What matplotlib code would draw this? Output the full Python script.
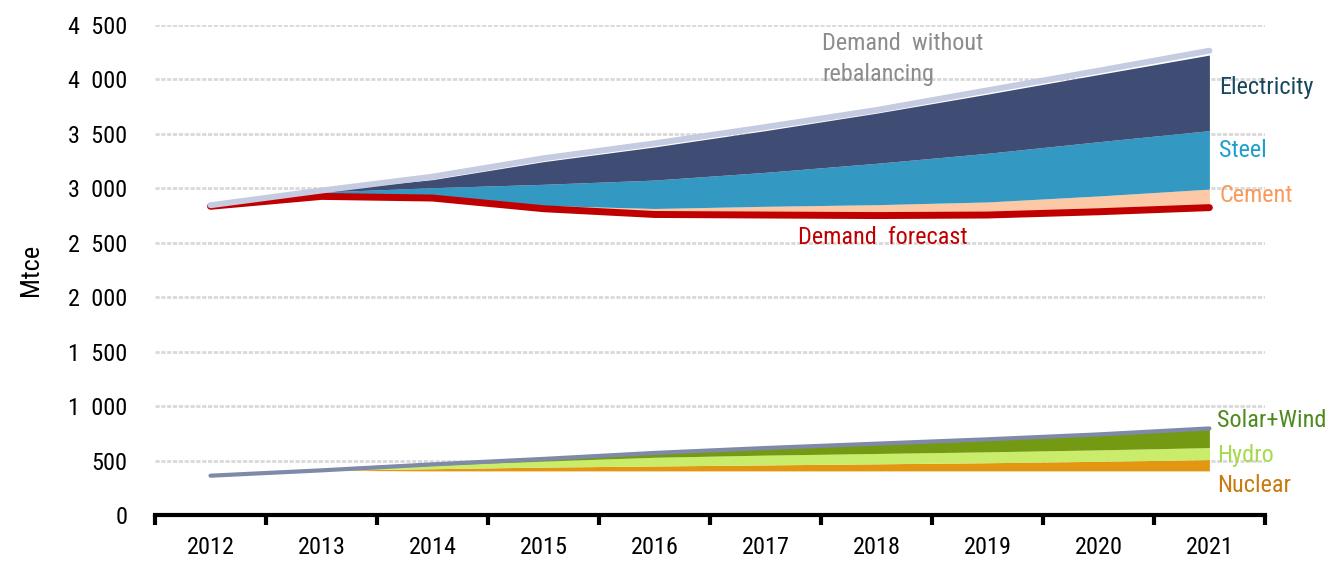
import matplotlib
matplotlib.use("Agg")
import matplotlib.pyplot as plt
import numpy as np

plt.rcParams["font.family"] = ["Roboto Condensed", "DejaVu Sans"]
plt.rcParams["font.stretch"] = "condensed"

years = ["2012", "2013", "2014", "2015", "2016", "2017", "2018", "2019", "2020", "2021"]

# upper block (Mtce)
demand_forecast = [2835, 2926, 2911, 2813, 2760, 2755, 2750, 2755, 2785, 2823]
cement = [0, 0, 10, 30, 55, 80, 100, 120, 145, 170]
steel = [0, 40, 85, 194, 261, 312, 380, 447, 498, 537]
electricity = [0, 12, 74, 208, 304, 383, 460, 543, 617, 694]
demand_no_rebal = [2845, 2980, 3107, 3276, 3413, 3563, 3719, 3900, 4080, 4264]

# lower block (Mtce)
other_base = [361, 410, 405, 405, 405, 405, 405, 405, 405, 405]
nuclear = [0, 0, 20, 35, 45, 55, 65, 75, 88, 104]
hydro = [0, 0, 30, 55, 80, 90, 95, 100, 105, 110]
solar_wind = [0, 0, 10, 20, 40, 65, 90, 115, 142, 176]

yticks = [0, 500, 1000, 1500, 2000, 2500, 3000, 3500, 4000, 4500]

x = np.arange(len(years))

fig = plt.figure(figsize=(13.34, 5.70), dpi=100)
ax = fig.add_axes([0.1162, 0.0965, 0.832, 0.8596])

# --- upper stack on top of demand forecast ---
b0 = np.array(demand_forecast, dtype=float)
b1 = b0 + cement
b2 = b1 + steel
b3 = b2 + electricity
ax.fill_between(x, b0, b1, color="#FCC8A6", lw=0, zorder=2)
ax.fill_between(x, b1, b2, color="#3399C2", lw=0, zorder=2)
ax.fill_between(x, b2, b3, color="#3F4D75", lw=0, zorder=2)
ax.plot(x, demand_forecast, color="#C00000", lw=5, solid_capstyle="round", zorder=4)
ax.plot(x, demand_no_rebal, color="#C5CBE0", lw=4.3, solid_capstyle="round", zorder=5)

# --- lower stack on top of an invisible base ---
l0 = np.array(other_base, dtype=float)
l1 = l0 + nuclear
l2 = l1 + hydro
l3 = l2 + solar_wind
ax.fill_between(x, l0, l1, color="#E39612", lw=0, zorder=2)
ax.fill_between(x, l1, l2, color="#C9EC6A", lw=0, zorder=2)
ax.fill_between(x, l2, l3, color="#739A12", lw=0, zorder=2)
ax.plot(x, l3, color="#7F89A8", lw=3, solid_capstyle="round", zorder=4)

# axes styling
ax.set_xlim(-0.5, len(years) - 0.5)
ax.set_ylim(0, 4500)
ax.set_yticks(yticks)
ax.set_yticklabels([f"{v:,}".replace(",", "  ") for v in yticks], fontsize=17.5)
ax.yaxis.grid(True, color="#D9D9D9", lw=2, ls=(0, (1.5, 0.6)), zorder=0)
ax.tick_params(axis="y", length=0, pad=20)

ax.set_xticks(np.arange(len(years) + 1) - 0.5)
ax.set_xticklabels([])
ax.set_xticks(x, minor=True)
ax.set_xticklabels(years, minor=True, fontsize=17.5)
ax.tick_params(axis="x", which="major", direction="out", length=7, width=3, color="black")
ax.tick_params(axis="x", which="minor", length=0, pad=15)

for s in ["top", "right", "left"]:
    ax.spines[s].set_visible(False)
ax.spines["bottom"].set_linewidth(3)
ax.spines["bottom"].set_zorder(6)

ax.set_ylabel("Mtce", fontsize=19, labelpad=18)

# series labels
lbl = dict(fontsize=17.5, va="center")
ax.text(9.09, 3930, "Electricity", color="#17465E", **lbl)
ax.text(9.09, 3352, "Steel", color="#1F9FD0", **lbl)
ax.text(9.09, 2930, "Cement", color="#F79A5C", **lbl)
ax.text(6.06, 2544, "Demand  forecast", color="#C00000", ha="center", **lbl)
ax.text(5.51, 4190, "Demand  without\nrebalancing", color="#8C8C8C", ha="left",
        linespacing=1.45, **lbl)
ax.text(9.07, 872, "Solar+Wind", color="#4E8A1E", **lbl)
ax.text(9.07, 551, "Hydro", color="#A6D94E", **lbl)
ax.text(9.07, 275, "Nuclear", color="#C87A10", **lbl)

fig.savefig("out.png", dpi=100)
